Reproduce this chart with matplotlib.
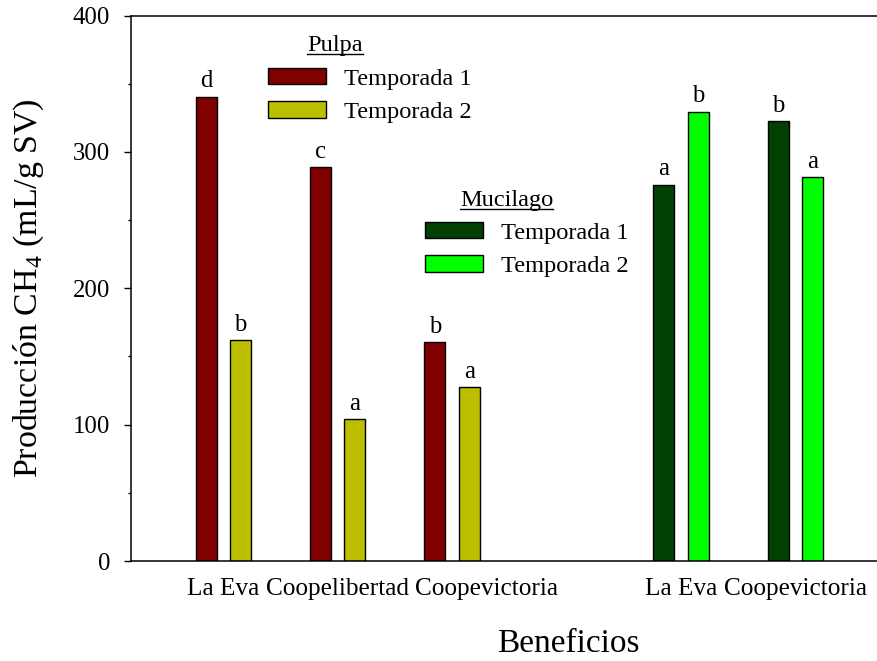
import matplotlib
matplotlib.use("Agg")
import matplotlib.pyplot as plt
from matplotlib.patches import Patch
from matplotlib.lines import Line2D
from matplotlib.ticker import MultipleLocator

plt.rcParams['font.family'] = ['Liberation Serif', 'DejaVu Serif']
plt.rcParams['mathtext.fontset'] = 'custom'
plt.rcParams['mathtext.rm'] = 'Liberation Serif'

# data
pulpa_sites = ["La Eva", "Coopelibertad", "Coopevictoria"]
pulpa_t1 = [340.5, 289, 160.5]
pulpa_t2 = [162, 104, 127.5]
pulpa_t1_letters = ["d", "c", "b"]
pulpa_t2_letters = ["b", "a", "a"]

muc_sites = ["La Eva", "Coopevictoria"]
muc_t1 = [276, 322.5]
muc_t2 = [329.5, 281.5]
muc_t1_letters = ["a", "b"]
muc_t2_letters = ["b", "a"]

pulpa_pos = [0, 1, 2]
muc_pos = [4, 5]

c_p1, c_p2 = "#800000", "#BBBF00"
c_m1, c_m2 = "#004000", "#00FF00"

W, H = 878, 661
fig = plt.figure(figsize=(W / 100, H / 100), dpi=100)
ax = fig.add_axes([131 / W, 1 - 561 / H, 1 - 131 / W, (561 - 15.5) / H])

bw = 0.184
off = 0.15
kw = dict(width=bw, edgecolor="black", linewidth=1.0)
b1 = ax.bar([p - off for p in pulpa_pos], pulpa_t1, color=c_p1, **kw)
b2 = ax.bar([p + off for p in pulpa_pos], pulpa_t2, color=c_p2, **kw)
b3 = ax.bar([p - off for p in muc_pos], muc_t1, color=c_m1, **kw)
b4 = ax.bar([p + off for p in muc_pos], muc_t2, color=c_m2, **kw)

for bars, labs in [(b1, pulpa_t1_letters), (b2, pulpa_t2_letters),
                   (b3, muc_t1_letters), (b4, muc_t2_letters)]:
    ax.bar_label(bars, labels=labs, padding=3, fontsize=17.8)

ax.set_xlim(-0.806, 5.723)
ax.set_ylim(0, 400)
ax.yaxis.set_major_locator(MultipleLocator(100))
ax.yaxis.set_minor_locator(MultipleLocator(50))
# the original nudges the third pulpa label right so it doesn't collide
ax.set_xticks([0, 1, 2.3, 4, 5])
ax.set_xticklabels(pulpa_sites + muc_sites)
ax.tick_params(axis="x", length=0, pad=12, labelsize=18.2)
ax.tick_params(axis="y", which="major", length=5, width=1, labelsize=17.8, pad=10)
ax.tick_params(axis="y", which="minor", length=2.5, width=1)
ax.spines["right"].set_visible(False)
for s in ["left", "top", "bottom"]:
    ax.spines[s].set_linewidth(1.1)

ax.set_ylabel(r"Producción CH$_4$ (mL/g SV)", fontsize=24.4, labelpad=19)
ax.set_xlabel("Beneficios", fontsize=24, labelpad=21)
ax.xaxis.label.set_x(0.585)

leg_kw = dict(frameon=False, fontsize=17.6, borderpad=0, borderaxespad=0,
              handlelength=2.39, handleheight=0.64, handletextpad=0.7,
              labelspacing=0.48, loc="upper left", bbox_transform=fig.transFigure)
leg1 = ax.legend(handles=[Patch(facecolor=c_p1, edgecolor="black", label="Temporada 1"),
                          Patch(facecolor=c_p2, edgecolor="black", label="Temporada 2")],
                 bbox_to_anchor=(268 / W, 1 - 68 / H), **leg_kw)
ax.add_artist(leg1)
leg2 = ax.legend(handles=[Patch(facecolor=c_m1, edgecolor="black", label="Temporada 1"),
                          Patch(facecolor=c_m2, edgecolor="black", label="Temporada 2")],
                 bbox_to_anchor=(425 / W, 1 - 222 / H), **leg_kw)

titles = [fig.text(334.7 / W, 1 - 51 / H, "Pulpa", fontsize=17.6, ha="center", va="baseline"),
          fig.text(506.7 / W, 1 - 206 / H, "Mucilago", fontsize=17.6, ha="center", va="baseline")]
fig.canvas.draw()
for t in titles:
    bb = t.get_window_extent()
    y = t.get_position()[1] - 2.5 / H
    fig.add_artist(Line2D([bb.x0 / W, bb.x1 / W], [y, y], transform=fig.transFigure,
                          color="black", linewidth=1.0))

fig.savefig("out.png", dpi=100)
